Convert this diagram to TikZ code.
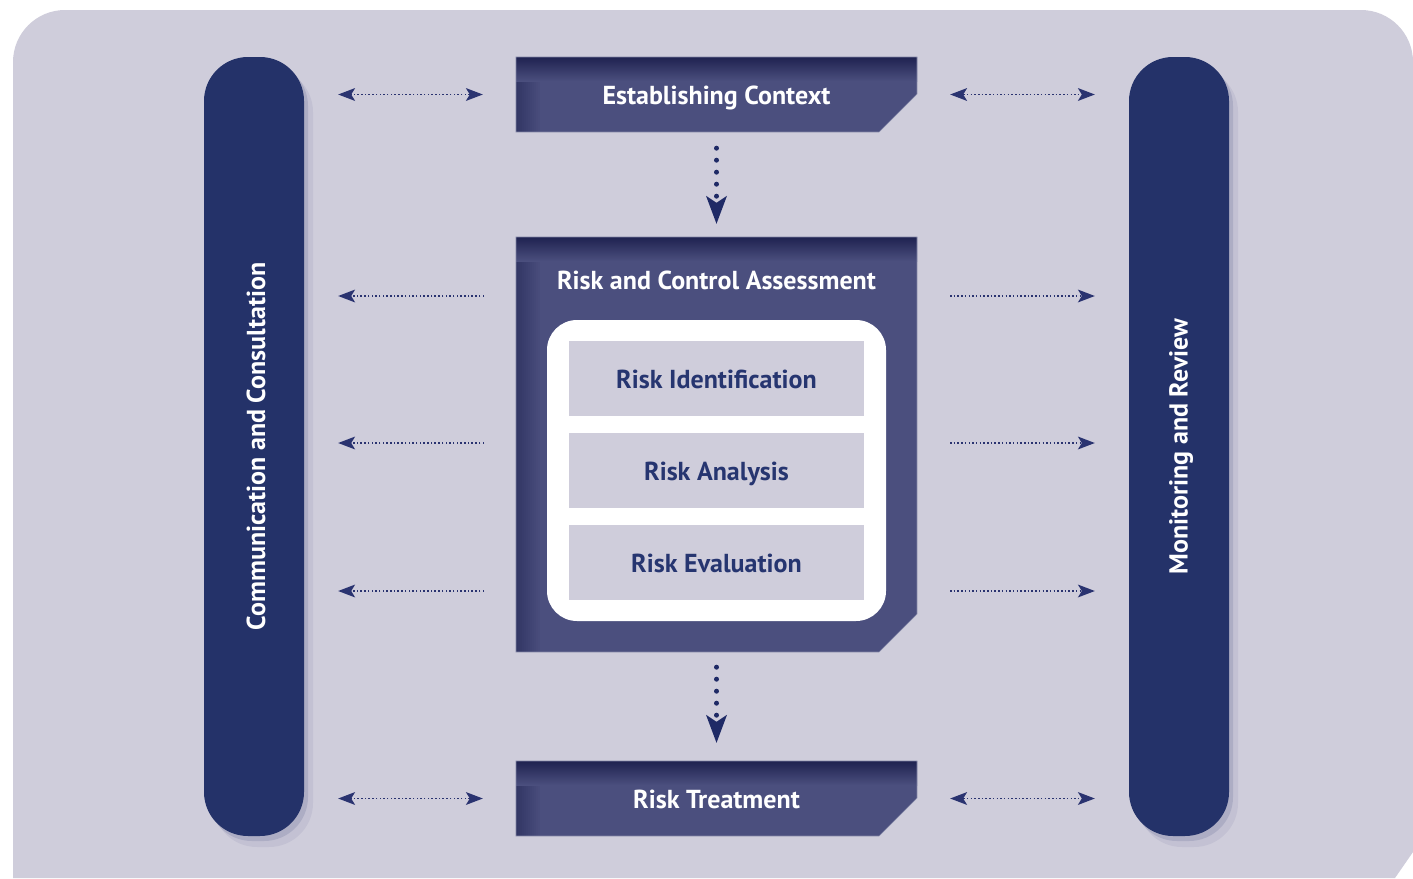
\documentclass[tikz,border=0pt]{standalone}
\usepackage{fontspec}
\setsansfont{PT Sans}
\usetikzlibrary{arrows.meta,positioning,shadows}
\definecolor{bgfill}{HTML}{CFCDDB}
\definecolor{pillnavy}{HTML}{243269}
\definecolor{boxbase}{HTML}{4B4F7E}
\definecolor{boxdark}{HTML}{1F2250}
\definecolor{arrownavy}{HTML}{2A3370}
\definecolor{dotnavy}{HTML}{1F2A66}
\definecolor{textnavy}{HTML}{263570}
\definecolor{shadowcol}{HTML}{5A5E8E}
\newcommand{\chamferbox}[2]{%
  \begin{scope}
    \clip (516,#1) -- (917,#1) -- (917,#2-38) -- (879,#2) -- (516,#2) -- cycle;
    \fill[boxbase] (516,#1) rectangle (917,#2);
    \foreach \k in {0,...,11}
      \fill[boxdark,opacity={0.55*(1-\k/12)}] (516+2*\k,#1) rectangle (518+2*\k,#2);
    \shade[top color=boxdark,bottom color=boxbase] (516,#1) rectangle (917,#1+24);
  \end{scope}
  \draw[boxbase!70!white,line width=0.6pt] (516,#1) -- (917,#1) -- (917,#2-38) -- (879,#2) -- (516,#2) -- cycle;}
\begin{document}
\begin{tikzpicture}[x=1pt,y=-1pt]
\tikzset{
  stagefont/.style={font=\sffamily\bfseries\fontsize{26}{30}\selectfont},
  pill/.style={rectangle,rounded corners=44pt,fill=pillnavy,minimum width=100pt,minimum height=779pt,inner sep=0pt,
    general shadow={shadow xshift=4pt,shadow yshift=-5pt,fill=shadowcol,opacity=.2},
    general shadow={shadow xshift=9pt,shadow yshift=-11pt,fill=shadowcol,opacity=.1}},
  pilltext/.style={stagefont,text=white,rotate=90,inner sep=0pt},
  stepbox/.style={rectangle,minimum width=401pt,inner sep=0pt,text height=20pt,text depth=0pt,stagefont,text=white},
  boxtitle/.style={stagefont,text=white,inner sep=0pt,text height=20pt,text depth=0pt},
  substep/.style={rectangle,fill=bgfill,minimum width=295pt,minimum height=75pt,inner sep=0pt,
    text height=20pt,text depth=0pt,stagefont,text=textnavy},
  hdots/.style={draw=arrownavy,line width=1.4pt,dash pattern=on 1.5pt off 2.2pt,shorten >=34pt,shorten <=33pt},
  vdots/.style={draw=dotnavy,line width=5pt,line cap=round,dash pattern=on 0pt off 12pt,
    -{Stealth[length=28pt,width=21pt,inset=7pt,line width=0pt]}},
  >={Stealth[length=17pt,width=13pt,inset=4pt,line width=0pt]}
}
\useasboundingbox (0,0) rectangle (1413,878);
\fill[bgfill,rounded corners=52pt] (13,10) rectangle (1413,500);
\fill[bgfill] (13,300) -- (1413,300) -- (1413,852) -- (1395,878) -- (13,878) -- cycle;
\node[pill] (comm) at (254,446.5) {};
\node[pilltext] (commlabel) at (256,446.5) {Communication and Consultation};
\node[pill] (monitor) at (1179,446.5) {};
\node[pilltext] (monitorlabel) at (1181,446.5) {Monitoring and Review};
\chamferbox{57}{132}
\node[stepbox,minimum height=75pt] (context) at (716.5,94.5) {Establishing Context};
\chamferbox{237}{652}
\node[stepbox,minimum height=415pt] (assess) at (716.5,444.5) {};
\node[boxtitle] (assesstitle) at (716.5,279) {Risk and Control Assessment};
\node[fill=white,rounded corners=30pt,minimum width=339pt,minimum height=301pt,inner sep=0pt] (stages) at (716.5,470.5) {};
\node[substep] (ident) at (716.5,378.5) {Risk Identification};
\node[substep] (analysis) at (716.5,470.5) {Risk Analysis};
\node[substep] (evaluation) at (716.5,562.5) {Risk Evaluation};
\chamferbox{761}{836}
\node[stepbox,minimum height=75pt] (treat) at (716.5,798.5) {Risk Treatment};
\draw[vdots,shorten <=16pt,shorten >=13pt] (context) -- (assess);
\draw[vdots,shorten <=15pt,shorten >=18pt] (assess) -- (treat);
\draw[hdots,<->] (context) -- (comm.east |- context);
\draw[hdots,<->] (context) -- (monitor.west |- context);
\draw[hdots,<->] (treat) -- (comm.east |- treat);
\draw[hdots,<->] (treat) -- (monitor.west |- treat);
\foreach \yy [count=\i] in {296,443,591} {
  \coordinate (rowL\i) at (516,\yy);
  \coordinate (rowR\i) at (917,\yy);
  \draw[hdots,->,shorten <=32pt] (rowL\i) -- (comm.east |- rowL\i);
  \draw[hdots,->] (rowR\i) -- (monitor.west |- rowR\i);
}
\end{tikzpicture}
\end{document}
